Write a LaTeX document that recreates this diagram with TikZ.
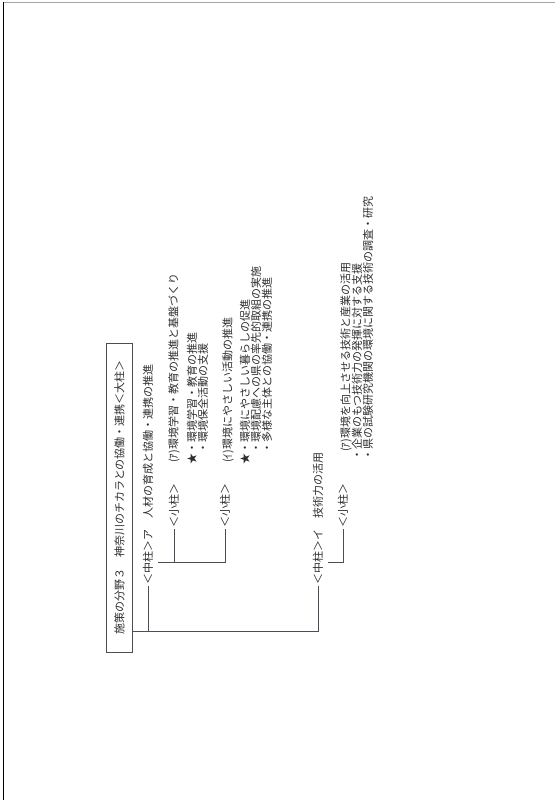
\documentclass[tikz,border=0pt]{standalone}
\usepackage{fontspec}
\setmainfont{Noto Sans CJK JP}
\usepackage{tikz}
\definecolor{linegray}{HTML}{4A4F57}
\definecolor{inkgray}{HTML}{2E2E2E}

\begin{document}
\begin{tikzpicture}[x=1pt,y=-1pt,font=\fontsize{11}{13}\selectfont]
\tikzset{txt/.style={rotate=90,anchor=west,inner sep=1pt,text=inkgray}, titlebox/.style={draw=linegray,line width=0.9pt,rotate=90,minimum width=309pt,minimum height=26pt,inner sep=0pt,text=inkgray}, tree/.style={draw=linegray,line width=0.9pt}}
\fill[white] (0,0) rectangle (555,800);
\useasboundingbox (0,0) rectangle (555,800);
\draw[gray!70] (3,2) -- (555,2);
\draw[black,line width=1pt] (3,2) -- (3,800);
\node[titlebox] (title) at (119.5,497.5) {施策の分野３　神奈川のチカラとの協働・連携＜大柱＞};
\node[txt] (chuA) at (148,586) {＜中柱＞ア　人材の育成と協働・連携の推進};
\node[txt] (chuI) at (318,586) {＜中柱＞イ　技術力の活用};
\node[txt] (shoA1) at (174,529) {＜小柱＞};
\node[txt] (shoA2) at (225,529) {＜小柱＞};
\node[txt] (shoI1) at (343,529) {＜小柱＞};
\node[txt] (itemA1) at (174,464) {(ｱ)環境学習・教育の推進と基盤づくり};
\node[txt] (bulA1a) at (192,466) {★・環境学習・教育の推進};
\node[txt] (bulA1b) at (203,455) {・環境保全活動の支援};
\node[txt] (itemA2) at (228,464) {(ｲ)環境にやさしい活動の推進};
\node[txt] (bulA2a) at (245,466) {★・環境にやさしい暮らしの促進};
\node[txt] (bulA2b) at (256,455) {・環境配慮への県の率先的取組の実施};
\node[txt] (bulA2c) at (267,455) {・多様な主体との協働・連携の推進};
\node[txt] (itemI1) at (346,453) {(ｱ)環境を向上させる技術と産業の活用};
\node[txt] (bulI1a) at (357,462) {・企業のもつ技術力の発揮に対する支援};
\node[txt] (bulI1b) at (368,462) {・県の試験研究機関の環境に関する技術の調査・研究};
\coordinate (trunk) at ([yshift=21pt]title.south west);
\draw[tree] (trunk) -| (chuI.west);
\draw[tree] (chuA.west) -- (chuA.west |- trunk);
\draw[tree] ([xshift=4pt,yshift=24pt]chuA.south west) -| (shoA1.west);
\draw[tree] ([xshift=4pt,yshift=24pt]chuA.south west) -| (shoA2.west);
\draw[tree] ([xshift=4pt,yshift=24pt]chuI.south west) -| (shoI1.west);
\end{tikzpicture}
\end{document}
